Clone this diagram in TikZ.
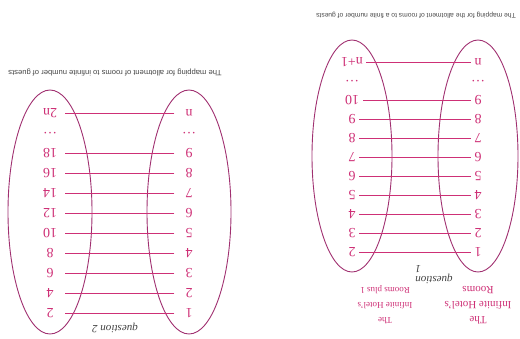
\documentclass[tikz,border=0pt]{standalone}
\usepackage{fontspec}
\setmainfont{Liberation Serif}
\setsansfont{Liberation Sans}
\usetikzlibrary{positioning}
\definecolor{hotelpink}{RGB}{206,48,118}
\definecolor{ovalplum}{RGB}{160,48,112}
\definecolor{captiongray}{RGB}{70,70,70}
\tikzset{
  num/.style={text=hotelpink, font=\fontsize{14}{14}\selectfont},
  numbox/.style={num, inner sep=0pt, minimum width=29pt},
  oval/.style={draw=ovalplum, line width=0.9pt},
  pair/.style={draw=hotelpink, line width=1pt},
  ttl/.style={text=hotelpink, align=center},
  captext/.style={text=captiongray},
  hand/.style={text=black!75, font=\itshape\fontsize{11}{11}\selectfont, align=right},
}

\begin{document}
\begin{tikzpicture}[x=1pt, y=1pt]
\useasboundingbox (0,0) rectangle (520,-338);
\begin{scope}[rotate around={180:(260,-169)}, transform shape]
% question 1: rooms 1..n to rooms 2..n+1
\draw[oval] (42,-182) ellipse [x radius=40pt, y radius=116pt];
\draw[oval] (168,-182) ellipse [x radius=40pt, y radius=116pt];
\foreach \i in {1,...,9}{
  \pgfmathtruncatemacro{\j}{\i+1}
  \node[num] (fa\i) at (42,{-86-19*(\i-1)}) {\i};
  \node[num] (fb\i) at (168,{-86-19*(\i-1)}) {\j};
  \draw[pair] (fa\i) -- (fb\i);
}
\node[num] (fadots) at (42,-257) {\dots};
\node[num] (fbdots) at (168,-257) {\dots};
\node[num] (fan) at (42,-276) {n};
\node[num] (fbn) at (168,-276) {n+1};
\draw[pair] (fan) -- (fbn);

\node[ttl, font=\fontsize{11}{15}\selectfont] (ttla) at (42,-33) {The\\Infinite Hotel's\\Rooms};
\node[ttl, font=\fontsize{9}{15}\selectfont] (ttlb) at (135,-33) {The\\Infinite Hotel's\\Rooms plus 1};
\node[hand] (qone) at (86,-63) {question\\1};
\node[captext, font=\sffamily\fontsize{6.7}{8}\selectfont] (capone) at (104,-323)
  {The mapping for the allotment of rooms to a finite number of guests};

% question 2: rooms 1..n to rooms 2..2n
\draw[oval] (331,-126) ellipse [x radius=42pt, y radius=122pt];
\draw[oval] (470,-126) ellipse [x radius=42pt, y radius=122pt];
\foreach \i in {1,...,9}{
  \pgfmathtruncatemacro{\j}{2*\i}
  \node[numbox] (sa\i) at (331,{-25-20*(\i-1)}) {\i};
  \node[numbox] (sb\i) at (470,{-25-20*(\i-1)}) {\j};
  \draw[pair] (sa\i) -- (sb\i);
}
\node[numbox] (sadots) at (331,-205) {\dots};
\node[numbox] (sbdots) at (470,-205) {\dots};
\node[numbox] (san) at (331,-225) {n};
\node[numbox] (sbn) at (470,-225) {2n};
\draw[pair] (san) -- (sbn);

\node[hand] (qtwo) at (405,-10) {question 2};
\node[captext, font=\sffamily\fontsize{7.6}{9}\selectfont] (captwo) at (405,-266)
  {The mapping for allotment of rooms to infinite number of guests};
\end{scope}
\end{tikzpicture}
\end{document}
